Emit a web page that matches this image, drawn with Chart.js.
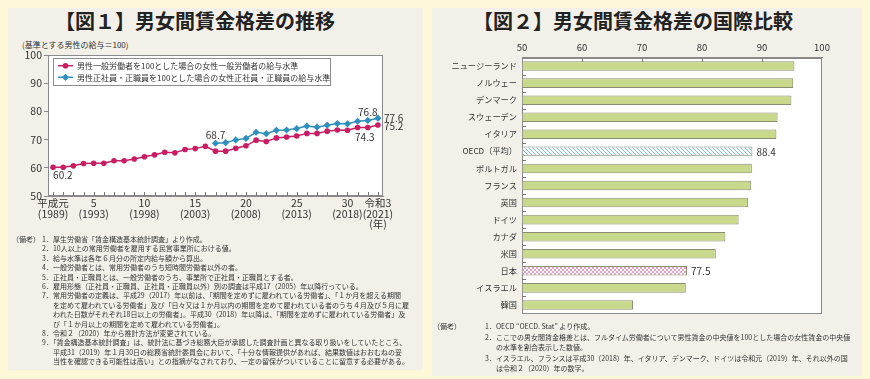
<!DOCTYPE html>
<html lang="ja">
<head>
<meta charset="utf-8">
<script src="https://cdn.jsdelivr.net/npm/chart.js@4"></script>
<style>
  html, body { margin: 0; padding: 0; }
  body {
    width: 870px; height: 379px; position: relative; overflow: hidden;
    background: #fdf8d8; color: #333;
    font-family: "Noto Sans CJK JP", "Noto Sans", sans-serif;
  }
  .panel { position: absolute; background: #f2f0e8; }
  .title { position: absolute; font-size: 20px; font-weight: bold; line-height: 24px; color: #222; white-space: nowrap; }
  .sub { position: absolute; font-size: 8px; line-height: 10px; white-space: nowrap; }
  .notes { position: absolute; font-size: 7px; white-space: nowrap; color: #333; }
  .notes div { padding-left: 11px; text-indent: -11px; }
  canvas { position: absolute; }
</style>
</head>
<body>
<div class="panel" style="left:8px;top:8px;width:415px;height:362px"></div>
<div class="panel" style="left:432px;top:8px;width:430px;height:368px"></div>

<div class="title" style="left:55px;top:9px">【図１】男女間賃金格差の推移</div>
<div class="title" style="left:473px;top:9px">【図２】男女間賃金格差の国際比較</div>
<div class="sub" style="left:22px;top:40px">(基準とする男性の給与＝100)</div>

<canvas id="trendChart" width="415" height="205" style="left:8px;top:30px"></canvas>
<canvas id="intlChart" width="430" height="290" style="left:432px;top:35px"></canvas>

<div class="notes" style="left:12px;top:235px;line-height:9.4px">（備考）</div>
<div class="notes" style="left:42px;top:235px;line-height:9.4px">
  <div>1．厚生労働省「賃金構造基本統計調査」より作成。</div>
  <div>2．10人以上の常用労働者を雇用する民営事業所における値。</div>
  <div>3．給与水準は各年６月分の所定内給与額から算出。</div>
  <div>4．一般労働者とは、常用労働者のうち短時間労働者以外の者。</div>
  <div>5．正社員・正職員とは、一般労働者のうち、事業所で正社員・正職員とする者。</div>
  <div>6．雇用形態（正社員・正職員、正社員・正職員以外）別の調査は平成17（2005）年以降行っている。</div>
  <div>7．常用労働者の定義は、平成29（2017）年以前は、「期間を定めずに雇われている労働者」、「１か月を超える期間<br>を定めて雇われている労働者」及び「日々又は１か月以内の期間を定めて雇われている者のうち４月及び５月に雇<br>われた日数がそれぞれ18日以上の労働者」。平成30（2018）年以降は、「期間を定めずに雇われている労働者」及<br>び「１か月以上の期間を定めて雇われている労働者」。</div>
  <div>8．令和２（2020）年から推計方法が変更されている。</div>
  <div>9．「賃金構造基本統計調査」は、統計法に基づき総務大臣が承認した調査計画と異なる取り扱いをしていたところ、<br>平成31（2019）年１月30日の総務省統計委員会において、「十分な情報提供があれば、結果数値はおおむねの妥<br>当性を確認できる可能性は高い」との指摘がなされており、一定の留保がついていることに留意する必要がある。</div>
</div>

<div class="notes" style="left:433px;top:321px;line-height:10.5px">（備考）</div>
<div class="notes" style="left:485px;top:321px;line-height:10.5px">
  <div>1．OECD “OECD. Stat” より作成。</div>
  <div>2．ここでの男女間賃金格差とは、フルタイム労働者について男性賃金の中央値を100とした場合の女性賃金の中央値<br>の水準を割合表示した数値。</div>
  <div>3．イスラエル、フランスは平成30（2018）年、イタリア、デンマーク、ドイツは令和元（2019）年、それ以外の国<br>は令和２（2020）年の数字。</div>
</div>

<script>
//////////////////// 図1: 男女間賃金格差の推移 ////////////////////
const years = [1989, 1990, 1991, 1992, 1993, 1994, 1995, 1996, 1997, 1998,
               1999, 2000, 2001, 2002, 2003, 2004, 2005, 2006, 2007, 2008,
               2009, 2010, 2011, 2012, 2013, 2014, 2015, 2016, 2017, 2018,
               2019, 2020, 2021];
const generalWorkers = [60.2, 60.2, 60.7, 61.5, 61.6, 61.6, 62.5, 62.5, 63.1, 63.9,
                        64.6, 65.5, 65.3, 66.5, 66.8, 67.6, 65.9, 65.9, 66.9, 67.8,
                        69.8, 69.3, 70.6, 70.9, 71.3, 72.2, 72.2, 73.0, 73.4, 73.3,
                        74.3, 74.3, 75.2];
const regularYears = [2005, 2006, 2007, 2008, 2009, 2010, 2011, 2012, 2013,
                      2014, 2015, 2016, 2017, 2018, 2019, 2020, 2021];
const regularStaff = [68.7, 68.9, 69.9, 70.4, 72.6, 72.1, 73.3, 73.4, 73.9,
                      74.8, 74.4, 75.1, 75.7, 75.6, 76.5, 76.8, 77.6];
const tickYears = [1989, 1993, 1998, 2003, 2008, 2013, 2018, 2021];
const tickEra = ['平成元', '5', '10', '15', '20', '25', '30', '令和3'];

//////////////////// 図2: 男女間賃金格差の国際比較 ////////////////////
const countries = ['ニュージーランド', 'ノルウェー', 'デンマーク', 'スウェーデン', 'イタリア',
                   'OECD（平均）', 'ポルトガル', 'フランス', '英国', 'ドイツ',
                   'カナダ', '米国', '日本', 'イスラエル', '韓国'];
const gapValues = [95.4, 95.2, 94.9, 92.6, 92.4,
                   88.4, 88.3, 88.2, 87.7, 86.1,
                   83.9, 82.3, 77.5, 77.3, 68.5];

Chart.defaults.font.family = '"Noto Sans CJK JP", "Noto Sans", sans-serif';
Chart.defaults.color = '#333';

const MAGENTA = '#c81d63';
const BLUE = '#2f8fbf';
const AXIS = '#8a8a8a';

///////// white plot area with a grey frame (both charts) /////////
const plotBox = {
  id: 'plotBox',
  beforeDraw(chart) {
    const { ctx, chartArea: { left, top, right, bottom } } = chart;
    const l = Math.round(left), t = Math.round(top), r = Math.round(right), b = Math.round(bottom);
    ctx.save();
    ctx.fillStyle = '#ffffff';
    ctx.fillRect(l, t, r - l, b - t);
    ctx.strokeStyle = AXIS;
    ctx.lineWidth = 1;
    ctx.strokeRect(l + 0.5, t + 0.5, r - l - 1, b - t - 1);
    ctx.restore();
  }
};

///////// short ticks inside the frame on the year axis /////////
const yearTicks = {
  id: 'yearTicks',
  beforeDatasetsDraw(chart) {
    const { ctx, scales: { x }, chartArea: { bottom } } = chart;
    ctx.save();
    ctx.strokeStyle = '#777';
    ctx.lineWidth = 1;
    ctx.beginPath();
    x.ticks.forEach((t, i) => {
      const px = Math.round(x.getPixelForTick(i)) + 0.5;
      ctx.moveTo(px, Math.round(bottom));
      ctx.lineTo(px, Math.round(bottom) - 4);
    });
    ctx.stroke();
    ctx.restore();
  }
};

///////// legend box drawn inside the plot /////////
const insideLegend = {
  id: 'insideLegend',
  afterDatasetsDraw(chart) {
    const { ctx, chartArea: { left, top } } = chart;
    const x0 = Math.round(left) + 5, y0 = Math.round(top) + 3, w = 277, h = 27;
    ctx.save();
    ctx.fillStyle = '#ffffff';
    ctx.fillRect(x0, y0, w, h);
    ctx.strokeStyle = '#8c8c8c';
    ctx.lineWidth = 1;
    ctx.strokeRect(x0 + 0.5, y0 + 0.5, w, h);
    ctx.font = '8px "Noto Sans CJK JP"';
    ctx.textBaseline = 'middle';
    chart.data.datasets.forEach((ds, i) => {
      const y = y0 + 7.7 + i * 11.6;
      ctx.strokeStyle = ds.borderColor;
      ctx.lineWidth = 1.5;
      ctx.beginPath();
      ctx.moveTo(x0 + 5, y);
      ctx.lineTo(x0 + 20, y);
      ctx.stroke();
      ctx.fillStyle = ds.backgroundColor;
      ctx.beginPath();
      if (ds.pointStyle === 'rectRot') {
        const r = ds.pointRadius;
        ctx.moveTo(x0 + 12.5, y - r);
        ctx.lineTo(x0 + 12.5 + r, y);
        ctx.lineTo(x0 + 12.5, y + r);
        ctx.lineTo(x0 + 12.5 - r, y);
        ctx.closePath();
      } else {
        ctx.arc(x0 + 12.5, y, ds.pointRadius, 0, Math.PI * 2);
      }
      ctx.fill();
      ctx.fillStyle = '#333';
      ctx.fillText(ds.label, x0 + 24, y + 0.5);
    });
    ctx.restore();
  }
};

///////// value callouts next to chosen points /////////
const valueTags = {
  id: 'valueTags',
  afterDatasetsDraw(chart, args, opts) {
    const { ctx } = chart;
    ctx.save();
    ctx.font = '10px "Noto Sans CJK JP"';
    ctx.fillStyle = '#333';
    ctx.textBaseline = 'middle';
    opts.tags.forEach(tag => {
      const idx = years.indexOf(tag.year);
      const pt = chart.getDatasetMeta(tag.ds).data[idx];
      const v = chart.data.datasets[tag.ds].data[idx];
      ctx.textAlign = tag.align;
      ctx.fillText(v.toFixed(1), pt.x + tag.dx, pt.y + tag.dy);
    });
    ctx.restore();
  }
};

const trendConfig = {
  type: 'line',
  data: {
    labels: years,
    datasets: [{
      label: '男性一般労働者を100とした場合の女性一般労働者の給与水準',
      data: generalWorkers,
      borderColor: MAGENTA,
      backgroundColor: MAGENTA,
      borderWidth: 1.5,
      pointStyle: 'circle',
      pointRadius: 2.8,
      pointBorderWidth: 0,
      tension: 0
    }, {
      label: '男性正社員・正職員を100とした場合の女性正社員・正職員の給与水準',
      data: years.map(y => regularYears.includes(y) ? regularStaff[regularYears.indexOf(y)] : null),
      borderColor: BLUE,
      backgroundColor: BLUE,
      borderWidth: 1.5,
      pointStyle: 'rectRot',
      pointRadius: 3.6,
      pointBorderWidth: 0,
      tension: 0
    }]
  },
  options: {
    responsive: false,
    animation: false,
    layout: { padding: { top: 25, right: 40, bottom: 0, left: 0 } },
    plugins: {
      legend: { display: false },
      tooltip: { enabled: false },
      valueTags: {
        tags: [
          { ds: 0, year: 1989, dx: 0, dy: 8, align: 'left' },
          { ds: 1, year: 2005, dx: 0, dy: -8, align: 'center' },
          { ds: 1, year: 2020, dx: 0, dy: -8, align: 'center' },
          { ds: 0, year: 2020, dx: -3, dy: 9.5, align: 'center' },
          { ds: 1, year: 2021, dx: 6, dy: 0, align: 'left' },
          { ds: 0, year: 2021, dx: 6, dy: 1, align: 'left' }
        ]
      }
    },
    scales: {
      x: {
        type: 'category',
        offset: true,
        grid: { drawOnChartArea: false, drawTicks: false },
        border: { color: AXIS },
        ticks: {
          autoSkip: false,
          maxRotation: 0,
          padding: 2,
          font: { size: 10.5, lineHeight: 1 },
          callback(value, index) {
            const k = tickYears.indexOf(years[index]);
            if (k < 0) return '';
            const lines = [tickEra[k], '(' + years[index] + ')'];
            if (index === years.length - 1) lines.push('(年)');
            return lines;
          }
        },
        afterFit(scale) { scale.height = 39; }
      },
      y: {
        min: 50,
        max: 100,
        grid: { drawOnChartArea: false, tickLength: 4, color: AXIS },
        border: { color: AXIS },
        ticks: { stepSize: 10, padding: 2, font: { size: 10.5 } },
        afterFit(scale) { scale.width = 40; }
      }
    }
  },
  plugins: [plotBox, yearTicks, insideLegend, valueTags]
};

new Chart(document.getElementById('trendChart'), trendConfig);

///////// fills for the highlighted bars /////////
const intlCanvas = document.getElementById('intlChart');
function makePattern(kind) {
  const c = document.createElement('canvas');
  c.width = 4; c.height = 4;
  const g = c.getContext('2d');
  g.fillStyle = '#ffffff';
  g.fillRect(0, 0, 4, 4);
  if (kind === 'hatch') {
    g.strokeStyle = '#86bfe0';
    g.lineWidth = 1;
    g.beginPath();
    g.moveTo(-1, -1); g.lineTo(5, 5);
    g.moveTo(-1, 3); g.lineTo(1, 5);
    g.moveTo(3, -1); g.lineTo(5, 1);
    g.stroke();
  } else {
    g.fillStyle = '#e79fca';
    g.fillRect(0, 0, 2, 2);
    g.fillRect(2, 2, 2, 2);
  }
  return intlCanvas.getContext('2d').createPattern(c, 'repeat');
}
const barFills = countries.map(name =>
  name === 'OECD（平均）' ? makePattern('hatch') : name === '日本' ? makePattern('check') : '#c9d98b');

///////// short ticks inside the frame (category bounds + top scale) /////////
const frameTicks = {
  id: 'frameTicks',
  beforeDatasetsDraw(chart) {
    const { ctx, scales: { x, y }, chartArea: { left, top } } = chart;
    const l = Math.round(left), t = Math.round(top);
    ctx.save();
    ctx.strokeStyle = '#777';
    ctx.lineWidth = 1;
    ctx.beginPath();
    for (let i = 1; i < countries.length; i++) {
      const py = Math.round((y.getPixelForValue(i - 1) + y.getPixelForValue(i)) / 2) + 0.5;
      ctx.moveTo(l, py);
      ctx.lineTo(l + 4, py);
    }
    x.ticks.forEach(tk => {
      if (tk.value <= x.min || tk.value >= x.max) return;
      const px = Math.round(x.getPixelForValue(tk.value)) + 0.5;
      ctx.moveTo(px, t);
      ctx.lineTo(px, t + 4);
    });
    ctx.stroke();
    ctx.restore();
  }
};

///////// numbers at the end of OECD and Japan bars /////////
const barTags = {
  id: 'barTags',
  afterDatasetsDraw(chart, args, opts) {
    const { ctx } = chart;
    const meta = chart.getDatasetMeta(0);
    ctx.save();
    ctx.font = '10px "Noto Sans CJK JP"';
    ctx.fillStyle = '#333';
    ctx.textAlign = 'left';
    ctx.textBaseline = 'middle';
    opts.names.forEach(name => {
      const i = countries.indexOf(name);
      const bar = meta.data[i];
      ctx.fillText(gapValues[i].toFixed(1), bar.x + 4, bar.y + 0.5);
    });
    ctx.restore();
  }
};

const intlConfig = {
  type: 'bar',
  data: {
    labels: countries,
    datasets: [{
      data: gapValues,
      base: 50,
      backgroundColor: barFills,
      borderColor: '#8b8d72',
      borderWidth: 1,
      borderSkipped: 'start',
      barPercentage: 0.56,
      categoryPercentage: 1
    }]
  },
  options: {
    indexAxis: 'y',
    responsive: false,
    animation: false,
    layout: { padding: { top: 0, right: 40, bottom: 11.5, left: 0 } },
    plugins: {
      legend: { display: false },
      tooltip: { enabled: false },
      barTags: { names: ['OECD（平均）', '日本'] }
    },
    scales: {
      x: {
        position: 'top',
        min: 50,
        max: 100,
        grid: { drawOnChartArea: false, drawTicks: false },
        border: { color: AXIS },
        ticks: { stepSize: 10, padding: 4, font: { size: 9.5 } },
        afterFit(scale) { scale.height = 22.5; }
      },
      y: {
        grid: { drawOnChartArea: false, drawTicks: false },
        border: { color: AXIS },
        ticks: { padding: 5, font: { size: 8.2 } },
        afterFit(scale) { scale.width = 90; }
      }
    }
  },
  plugins: [plotBox, frameTicks, barTags]
};

new Chart(intlCanvas, intlConfig);
</script>
</body>
</html>
